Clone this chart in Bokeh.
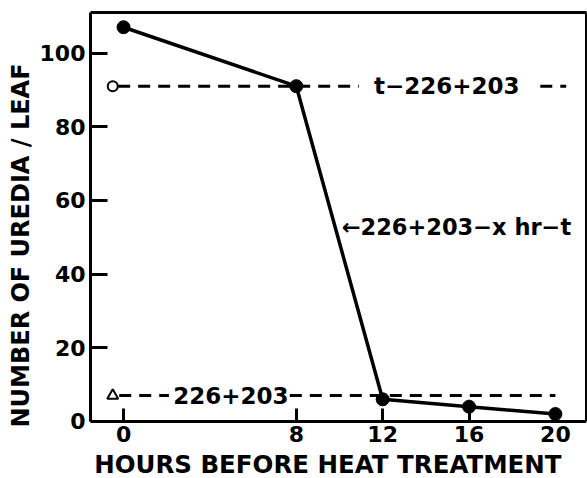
from bokeh.plotting import figure
from bokeh.models import FixedTicker, ColumnDataSource, Label, LinearAxis
from bokeh.core.properties import value
from bokeh.embed import file_html
from bokeh.resources import INLINE

# ---- data ----
hours = [0, 8, 12, 16, 20]
uredia = [107, 91, 6, 4, 2]            # 226+203 - x hr - t
control_t_first = 91                   # t - 226+203
control_no_t = 7                       # 226+203
x_ticks = [0, 8, 12, 16, 20]
y_ticks = [0, 20, 40, 60, 80, 100]
Y_TOP = 111

FONT = "DejaVu Sans"

p = figure(width=587, height=478, x_range=(-1.53, 21.44), y_range=(-15.5, Y_TOP),
           output_backend="svg", toolbar_location=None,
           min_border_left=90, min_border_top=12, min_border_right=1,
           min_border_bottom=0)

p.grid.visible = False
p.outline_line_color = None
p.background_fill_color = "white"
p.border_fill_color = "white"

for ax in (p.xaxis, p.yaxis):
    ax.axis_line_width = 3
    ax.axis_line_color = "black"
    ax.major_tick_line_width = 3
    ax.major_tick_line_color = "black"
    ax.minor_tick_line_color = None
    ax.major_tick_out = 0
    ax.major_label_text_font = FONT
    ax.major_label_text_font_size = "22px"
    ax.major_label_text_font_style = "bold"
    ax.major_label_text_color = "black"
    ax.axis_label_text_font = FONT
    ax.axis_label_text_font_style = "bold"
    ax.axis_label_text_color = "black"

p.xaxis.ticker = FixedTicker(ticks=x_ticks)
p.yaxis.ticker = FixedTicker(ticks=y_ticks)
p.xaxis.fixed_location = 0
p.yaxis.bounds = (0, Y_TOP)
p.xaxis.major_tick_in = 13
p.yaxis.major_tick_in = 17
p.xaxis.major_label_standoff = 5
p.yaxis.major_label_standoff = 5
p.yaxis.axis_label = "NUMBER OF UREDIA / LEAF"
p.yaxis.axis_label_text_font_size = "24px"
p.yaxis.axis_label_standoff = 2

# plain top and right frame lines
for loc, bounds in (("above", "auto"), ("right", (0, Y_TOP))):
    a = LinearAxis(ticker=FixedTicker(ticks=[]), bounds=bounds,
                   axis_line_width=3, axis_line_color="black",
                   major_tick_in=0, major_tick_out=0,
                   minor_tick_in=0, minor_tick_out=0,
                   major_label_text_font_size="0px",
                   major_label_standoff=0)
    p.add_layout(a, loc)

# x-axis title, placed just under the tick labels (kept inside the frame)
p.add_layout(Label(x=-1.36, y=-11.8, x_units="data", y_units="data",
                   text="HOURS  BEFORE  HEAT  TREATMENT",
                   text_font=FONT, text_font_size="24.5px",
                   text_font_style="bold", text_color="black",
                   text_align="left", text_baseline="middle"))

# dashed control lines (broken around their labels)
dash = "12 8"
p.segment(x0=[-0.25, 19.3], y0=[control_t_first] * 2,
          x1=[10.9, 20.5], y1=[control_t_first] * 2,
          line_color="black", line_width=3, line_dash=dash)
p.segment(x0=[-0.2, 7.7], y0=[control_no_t] * 2,
          x1=[2.1, 20.0], y1=[control_no_t] * 2,
          line_color="black", line_width=3, line_dash=dash)

# control markers
p.scatter([-0.5], [control_t_first], marker="circle", size=10,
          fill_color="white", line_color="black", line_width=2)
p.scatter([-0.5], [control_no_t], marker="triangle", size=11,
          fill_color="white", line_color="black", line_width=2)

# treatment series
src = ColumnDataSource(dict(x=hours, y=uredia))
p.line("x", "y", source=src, line_color="black", line_width=3.5)
p.scatter("x", "y", source=src, marker="circle", size=13,
          fill_color="black", line_color="black")

# labels
lab = ColumnDataSource(dict(
    x=[11.6, 2.3],
    y=[control_t_first, control_no_t],
    t=["t\u2212226+203", "226+203"],
))
p.text("x", "y", text="t", source=lab, text_font=value(FONT),
       text_font_size="23px", text_font_style="bold",
       text_baseline="middle", text_align="left", text_color="black")
p.text([10.1], [52.7], text=["\u2190226+203\u2212x hr\u2212t"],
       text_font=value(FONT), text_font_size="22.5px", text_font_style="bold",
       text_baseline="middle", text_align="left", text_color="black")

open("out.html", "w").write(file_html(p, INLINE))
